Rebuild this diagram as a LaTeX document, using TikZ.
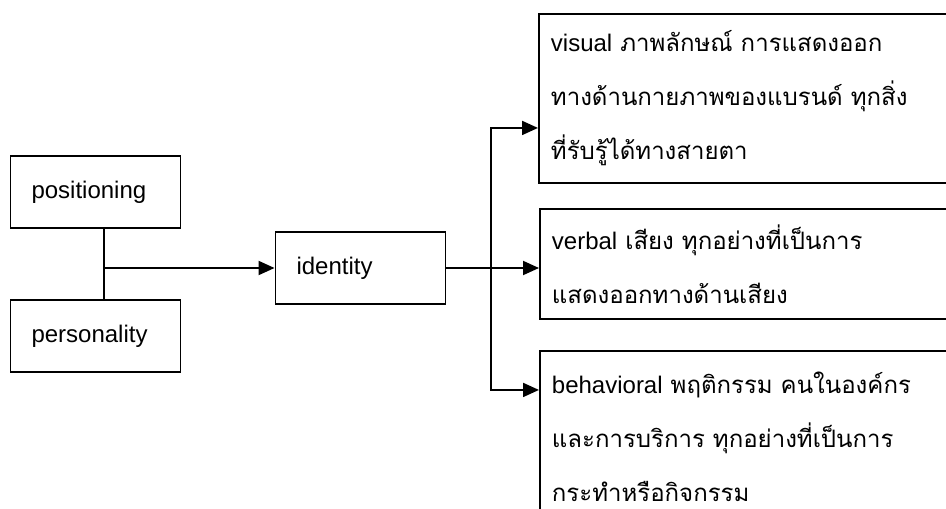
\documentclass[tikz,border=0pt]{standalone}
\usepackage{fontspec}
\setmainfont{Liberation Sans}
\newfontfamily\thaifont[Script=Thai]{Loma}
\usetikzlibrary{arrows.meta, positioning}
\newcommand{\thaitxt}[1]{{\thaifont #1}}

\begin{document}
\begin{tikzpicture}[x=1pt, y=-1pt,
    box/.style={draw, line width=1.9pt, minimum height=72pt, inner xsep=21pt, inner ysep=0pt, text width=128pt, align=left, font=\fontsize{24}{28}\selectfont},
    textbox/.style={draw, line width=1.9pt, anchor=north west, minimum width=420pt, inner xsep=12pt, inner ysep=0pt, text width=396pt, align=left, font=\fontsize{24}{54}\selectfont},
    link/.style={line width=1.9pt},
    arrowstyle/.style={link, -{Triangle[length=16pt, width=14pt]}}
  ]
  \useasboundingbox (0,0) rectangle (946,509);
  \clip (0,0) rectangle (946,509);
  % left column
  \node[box] (pos) at (95.5,192) {positioning};
  \node[box, below=70pt of pos] (pers) {personality};
  \node[box] (ident) at (360.5,268) {identity};
  % right column
  \node[textbox, minimum height=169pt] (visual) at (538,13) {visual \thaitxt{ภาพลักษณ์ การแสดงออก}\\ \thaitxt{ทางด้านกายภาพของแบรนด์ ทุกสิ่ง}\\ \thaitxt{ที่รับรู้ได้ทางสายตา}};
  \node[textbox, minimum height=110pt] (verbal) at (539,208) {verbal \thaitxt{เสียง ทุกอย่างที่เป็นการ}\\ \thaitxt{แสดงออกทางด้านเสียง}};
  \node[textbox, minimum height=171pt] (behav) at (539,350) {behavioral \thaitxt{พฤติกรรม คนในองค์กร}\\ \thaitxt{และการบริการ ทุกอย่างที่เป็นการ}\\ \thaitxt{กระทำหรือกิจกรรม}};
  % connectors
  \coordinate (stem) at (104,267);
  \coordinate (fork) at (491,267);
  \draw[link] ([xshift=8.5pt]pos.south) -- ([xshift=8.5pt]pos.south |- pers.north);
  \draw[arrowstyle] (ident.west -| stem) -- (ident.west);
  \draw[link] (ident.east) -- (ident.east -| fork);
  \draw[arrowstyle] (ident.east -| fork) -- (ident.east -| verbal.west);
  \draw[arrowstyle] (fork) |- ([yshift=-29.5pt]visual.west);
  \draw[arrowstyle] (fork) |- ([yshift=46.5pt]behav.west);
\end{tikzpicture}
\end{document}
